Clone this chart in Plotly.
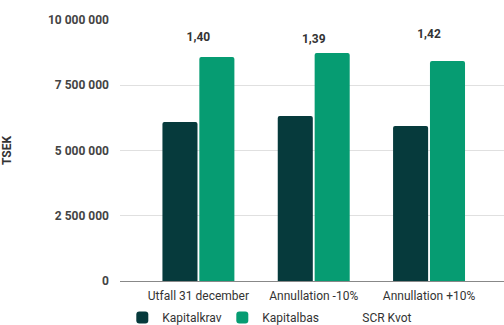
import plotly.graph_objects as go

categories = ["Utfall 31 december", "Annullation -10%", "Annullation +10%"]
kapitalkrav = [6090000, 6320000, 5940000]
kapitalbas = [8580000, 8740000, 8430000]
scr_kvot = [1.40, 1.39, 1.42]
scr_labels = ["1,40", "1,39", "1,42"]
y_ticks = [0, 2500000, 5000000, 7500000, 10000000]
y_tick_labels = ["0", "2 500 000", "5 000 000", "7 500 000", "10 000 000"]

fig = go.Figure()
fig.add_trace(go.Bar(x=categories, y=kapitalkrav, name="Kapitalkrav",
                     marker=dict(color="#063a3c", line=dict(width=0))))
fig.add_trace(go.Bar(x=categories, y=kapitalbas, name="Kapitalbas",
                     marker=dict(color="#069c72", line=dict(width=0))))
fig.add_trace(go.Scatter(x=categories, y=scr_kvot, name="SCR Kvot", yaxis="y2",
                         mode="lines+text", text=scr_labels, textposition="middle center",
                         line=dict(color="rgba(0,0,0,0)"),
                         textfont=dict(family="Roboto", size=12, color="#333333", weight="bold"),
                         hoverinfo="skip"))

fig.update_layout(
    width=504, height=325,
    margin=dict(l=115, r=0, t=20, b=22),
    paper_bgcolor="white", plot_bgcolor="white",
    barmode="group", bargap=0.36, bargroupgap=0.05, barcornerradius=2,
    font=dict(family="Roboto", size=12, color="#333333"),
    xaxis=dict(range=[-0.68, 2.65], showgrid=False, ticks="", showline=False,
               ticklabelstandoff=6,
               tickfont=dict(family="Roboto", size=12, color="#333333")),
    yaxis=dict(range=[0, 10000000], tickvals=y_ticks, ticktext=y_tick_labels,
               showgrid=True, gridcolor="#e0e0e0", gridwidth=1,
               zeroline=True, zerolinecolor="#888888", zerolinewidth=1,
               tickfont=dict(family="Roboto", size=12, color="#444444", weight="bold"),
               ticklabelstandoff=10,
               title=dict(text="TSEK", font=dict(family="Roboto", size=12, color="#333333", weight="bold"),
                          standoff=40)),
    yaxis2=dict(overlaying="y", side="right", range=[-0.053, 1.51], visible=False),
    legend=dict(orientation="h", x=0.006, xanchor="left",
                yref="container", y=0.0677, yanchor="top",
                font=dict(family="Roboto", size=12, color="#333333"),
                itemwidth=30, entrywidth=55, entrywidthmode="pixels",
                traceorder="normal"),
    showlegend=True,
)

fig.write_html("out.html")
